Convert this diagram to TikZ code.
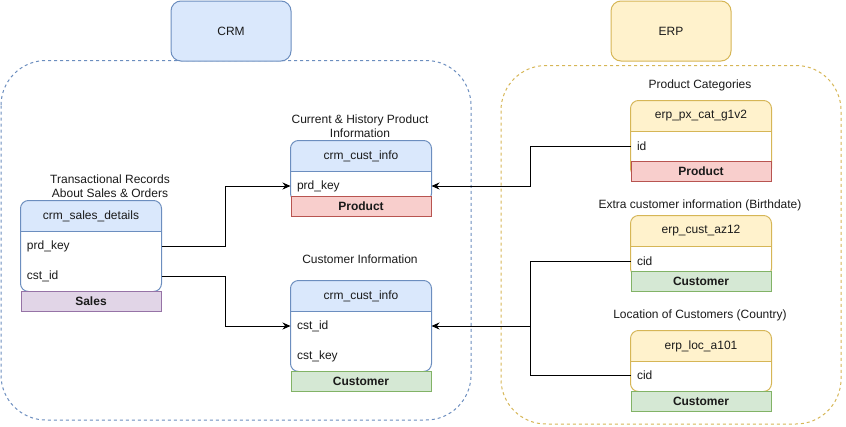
\documentclass[tikz,border=0pt]{standalone}
\usepackage{fontspec}
\setmainfont{Liberation Sans}
\usetikzlibrary{arrows.meta,calc}
\definecolor{bluefill}{HTML}{DAE8FC}
\definecolor{bluestroke}{HTML}{6C8EBF}
\definecolor{yelfill}{HTML}{FFF2CC}
\definecolor{yelstroke}{HTML}{D6B656}
\definecolor{redfill}{HTML}{F8CECC}
\definecolor{redstroke}{HTML}{B85450}
\definecolor{grnfill}{HTML}{D5E8D4}
\definecolor{grnstroke}{HTML}{82B366}
\definecolor{purfill}{HTML}{E1D5E7}
\definecolor{purstroke}{HTML}{9673A6}
\definecolor{txt}{HTML}{1A1A1A}
\newcommand\mktable[7]{%
  \node[tblbody, minimum height=#4pt] (#1) at (#2,#3) {};
  \fill[#5] ($(#1.north west)+(0,15)$) rectangle ($(#1.north east)+(0,30)$);
  \node[tblhead, fill=#5] (#1h) at (#2,#3) {#7};
  \draw[#6] (#1h.south west) -- (#1h.south east);
  \draw[#6, rounded corners=8pt] (#1.north west) rectangle (#1.south east);
}
\begin{document}
\begin{tikzpicture}[x=1pt,y=-1pt,
  font=\fontsize{12}{14}\selectfont, text=txt, line width=1pt,
  tblbody/.style={fill=white, rounded corners=8pt, minimum width=140pt, inner sep=0pt, anchor=north west},
  tblhead/.style={rounded corners=8pt, minimum width=140pt, minimum height=30pt, inner sep=0pt, anchor=north west},
  rowcell/.style={text width=128pt, align=left, inner xsep=6pt, inner ysep=0pt, minimum height=30pt, anchor=north west},
  tag/.style={draw=#1stroke, fill=#1fill, minimum width=140pt, minimum height=20pt, inner sep=0pt, anchor=north west, font=\fontsize{12}{14}\selectfont\bfseries},
  group/.style={draw=#1stroke, fill=#1fill, rounded corners=10pt, minimum width=120pt, minimum height=60pt, inner sep=0pt, anchor=north west},
  container/.style={draw=#1stroke, dash pattern=on 3pt off 3pt, rounded corners=45pt},
  caption/.style={align=center, inner sep=0pt},
  arr/.style={-{Stealth[length=8pt,width=7pt]}, line width=1pt, draw=black},
  link/.style={line width=1pt, draw=black}
]
\useasboundingbox (0,0) rectangle (846,426);

% containers
\draw[container=blue] (1,60.5) rectangle (471,420);
\draw[container=yel] (501,65.5) rectangle (841,424);

% group titles
\node[group=blue] (crm) at (170.5,0.5) {CRM};
\node[group=yel] (erp) at (610.5,0.5) {ERP};

% captions
\node[caption] (capsales) at (110,186) {Transactional Records\\About Sales \& Orders};
\node[caption] (capprd) at (360,126) {Current \& History Product\\Information};
\node[caption] (capcust) at (360,259.5) {Customer Information};
\node[caption] (cappx) at (700,85.5) {Product Categories};
\node[caption] (capaz) at (700,205.5) {Extra customer information (Birthdate)};
\node[caption] (caploc) at (700,315.5) {Location of Customers (Country)};

% crm_sales_details
\mktable{sales}{20.5}{200.5}{90}{bluefill}{bluestroke}{crm\_sales\_details}
\node[rowcell] (sprd) at (20.5,230.5) {prd\_key};
\node[rowcell] (scst) at (20.5,260.5) {cst\_id};
\node[tag=pur] (tsales) at (20.5,290.5) {Sales};

% crm_cust_info (product)
\mktable{prd}{290.5}{140.5}{60}{bluefill}{bluestroke}{crm\_cust\_info}
\node[rowcell] (pprd) at (290.5,170.5) {prd\_key};
\node[tag=red] (tprd) at (290.5,195.5) {Product};

% crm_cust_info (customer)
\mktable{cust}{290.5}{280.5}{90}{bluefill}{bluestroke}{crm\_cust\_info}
\node[rowcell] (ccst) at (290.5,310.5) {cst\_id};
\node[rowcell] (ckey) at (290.5,340.5) {cst\_key};
\node[tag=grn] (tcust) at (290.5,370.5) {Customer};

% erp_px_cat_g1v2
\mktable{px}{630.5}{100.5}{75}{yelfill}{yelstroke}{erp\_px\_cat\_g1v2}
\node[rowcell] (pxid) at (630.5,130.5) {id};
\node[tag=red] (tpx) at (630.5,160.5) {Product};

% erp_cust_az12
\mktable{az}{630.5}{215.5}{60}{yelfill}{yelstroke}{erp\_cust\_az12}
\node[rowcell] (azcid) at (630.5,245.5) {cid};
\node[tag=grn] (taz) at (630.5,270.5) {Customer};

% erp_loc_a101
\mktable{loc}{630.5}{330.5}{60}{yelfill}{yelstroke}{erp\_loc\_a101}
\node[rowcell] (loccid) at (630.5,360) {cid};
\node[tag=grn] (tloc) at (630.5,390.5) {Customer};

% junction columns
\coordinate (jl) at (225.5,0);
\coordinate (jr) at (530.5,0);

% connectors
\draw[arr] (sprd.east) -- (sprd.east -| jl) |- (pprd.west);
\draw[arr] (scst.east) -- (scst.east -| jl) |- (ccst.west);
\draw[arr] (pxid.west) -- (pxid.west -| jr) |- (pprd.east);
\draw[arr] (azcid.west) -- (azcid.west -| jr) |- (ccst.east);
\draw[link] (loccid.west) -| (jr |- ccst.east);
\end{tikzpicture}
\end{document}
